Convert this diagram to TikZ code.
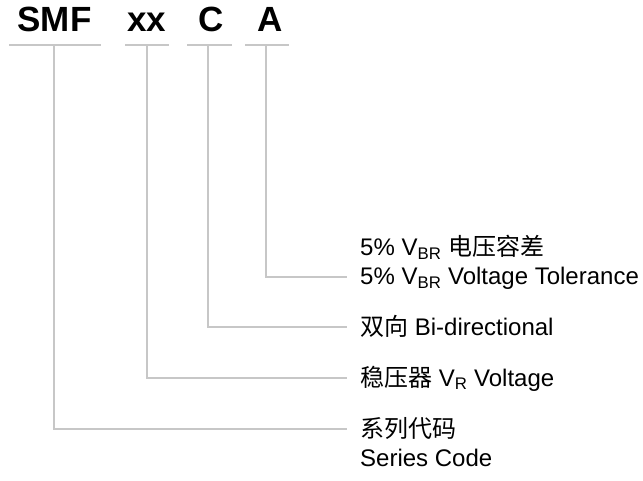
\documentclass[tikz,border=0pt]{standalone}
\usepackage{fontspec}
\setmainfont{Liberation Sans}
\newfontfamily\cjk{Noto Sans CJK SC}
\begin{document}
\begin{tikzpicture}[x=1pt,y=-1pt,
  code/.style={font=\fontsize{35}{35}\selectfont\bfseries, inner sep=0pt, anchor=base},
  lab/.style={font=\fontsize{24}{26}\selectfont, inner sep=0pt, anchor=base west, text=black},
  gl/.style={draw=black!22, line width=1.5pt}]
\useasboundingbox (0,0) rectangle (643,481);
% code letters
\node[code] (smf) at (54.5,32) {SMF};
\node[code] (xx) at (146.5,32) {xx};
\node[code] (c) at (211,32) {C};
\node[code] (a) at (270,32) {A};
% underlines
\coordinate (u1a) at (9,45);  \coordinate (u1b) at (101,45);
\coordinate (u2a) at (125,45); \coordinate (u2b) at (169,45);
\coordinate (u3a) at (187,45); \coordinate (u3b) at (232,45);
\coordinate (u4a) at (245,45); \coordinate (u4b) at (289,45);
\draw[gl] (u1a) -- (u1b);
\draw[gl] (u2a) -- (u2b);
\draw[gl] (u3a) -- (u3b);
\draw[gl] (u4a) -- (u4b);
% stems
\coordinate (s1) at (54,45);  \coordinate (e1) at (347,429);
\coordinate (s2) at (147,45); \coordinate (e2) at (347,378);
\coordinate (s3) at (208,45); \coordinate (e3) at (347,327);
\coordinate (s4) at (266,45); \coordinate (e4) at (347,277);
\draw[gl] (s1) |- (e1);
\draw[gl] (s2) |- (e2);
\draw[gl] (s3) |- (e3);
\draw[gl] (s4) |- (e4);
% labels
\node[lab] (la1) at (360,256) {5\% V\textsubscript{BR} {\cjk 电压容差}};
\node[lab] (la2) at (360,285) {5\% V\textsubscript{BR} Voltage Tolerance};
\node[lab] (lc) at (360,335) {{\cjk 双向} Bi-directional};
\node[lab] (lx) at (360,386) {{\cjk 稳压器} V\textsubscript{R} Voltage};
\node[lab] (ls1) at (360,437) {{\cjk 系列代码}};
\node[lab] (ls2) at (360,466) {Series Code};
\end{tikzpicture}
\end{document}
